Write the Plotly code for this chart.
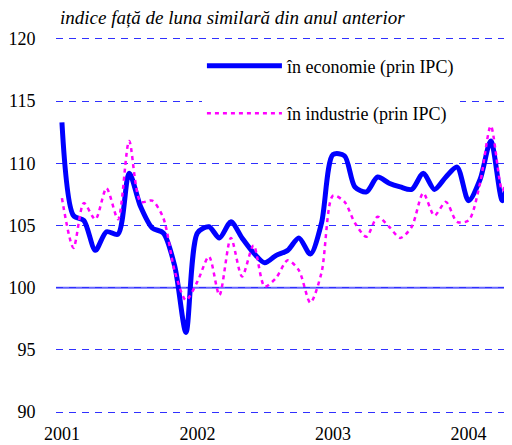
import plotly.graph_objects as go
import pandas as pd

months = pd.date_range("2001-01-01", "2004-05-01", freq="MS").strftime("%Y-%m-%d").tolist()

economie = [113.3, 105.8, 105.4, 103.0, 104.5, 104.3, 109.2, 106.5, 104.8, 104.4, 101.7, 96.4,
            104.4, 104.9, 104.0, 105.3, 104.0, 102.8, 102.0, 102.6, 103.0, 104.0, 102.7, 105.2,
            110.7, 110.6, 108.1, 107.7, 108.9, 108.4, 108.1, 107.9, 109.2, 107.9, 108.9, 109.7,
            107.0, 108.7, 111.8, 107.0, 111.5]

industrie = [107.2, 103.2, 106.8, 105.5, 108.0, 105.5, 111.8, 106.9, 107.0, 105.6, 101.3, 99.0,
             100.5, 102.5, 99.4, 104.0, 100.9, 103.4, 100.1, 100.8, 102.2, 101.4, 98.8, 101.2,
             107.4, 106.9, 105.2, 104.1, 105.7, 104.9, 104.0, 104.9, 107.6, 105.8, 106.9, 105.3,
             105.4, 108.4, 113.0, 107.8, 112.0]

year_ticks = ["2001-01-01", "2002-01-01", "2003-01-01", "2004-01-01"]
year_labels = ["2001", "2002", "2003", "2004"]
y_ticks = [90, 95, 100, 105, 110, 115, 120]

# page has an 8px body margin: figure is 504x437 so it fits the 512x445 window
W, H, OFF = 504, 437, 8
serif = "Liberation Serif, Times New Roman, DejaVu Serif, serif"

fig = go.Figure()
fig.add_trace(go.Scatter(
    x=months, y=economie, name="în economie (prin IPC)", mode="lines",
    line=dict(color="#0000FF", width=5, shape="spline", smoothing=0.8),
    legendgroup="a"))
fig.add_trace(go.Scatter(
    x=months, y=industrie, name="în industrie (prin IPC)", mode="lines",
    line=dict(color="#FF00FF", width=2.5, dash="4px,4px", shape="spline", smoothing=0.8),
    legendgroup="b"))

fig.add_shape(type="line", xref="paper", x0=0, x1=1, yref="y", y0=100, y1=100,
              line=dict(color="#6666FF", width=2), layer="below")

fig.update_layout(
    width=W, height=H,
    margin=dict(l=48, r=0, t=22, b=25, autoexpand=False),
    paper_bgcolor="white", plot_bgcolor="white",
    font=dict(family=serif, size=18, color="black"),
    title=dict(text="<i>indice față de luna similară din anul anterior</i>",
               xref="container", x=(60-OFF)/W, xanchor="left",
               yref="container", y=1-(17-OFF)/H, yanchor="middle",
               font=dict(family=serif, size=19, color="black"), automargin=False),
    xaxis=dict(range=["2000-12-16", "2004-04-27"], tickvals=year_ticks, ticktext=year_labels,
               showgrid=False, showline=False, zeroline=False, automargin=False,
               ticks="outside", ticklen=0, tickcolor="rgba(0,0,0,0)", ticklabelstandoff=-3,
               tickfont=dict(family=serif, size=18)),
    yaxis=dict(range=[89.36, 120.72], tickvals=y_ticks, automargin=False,
               showgrid=True, gridcolor="#3030FF", gridwidth=1, griddash="7px,6px",
               showline=False, zeroline=False,
               ticks="outside", ticklen=16, tickcolor="rgba(0,0,0,0)",
               tickfont=dict(family=serif, size=18)),
    legend=dict(x=0.320, y=0.955, xanchor="left", yanchor="top",
                bgcolor="white", borderwidth=0,
                font=dict(family=serif, size=18),
                tracegroupgap=21, itemwidth=75),
    showlegend=True,
)

fig.write_html("out.html")
